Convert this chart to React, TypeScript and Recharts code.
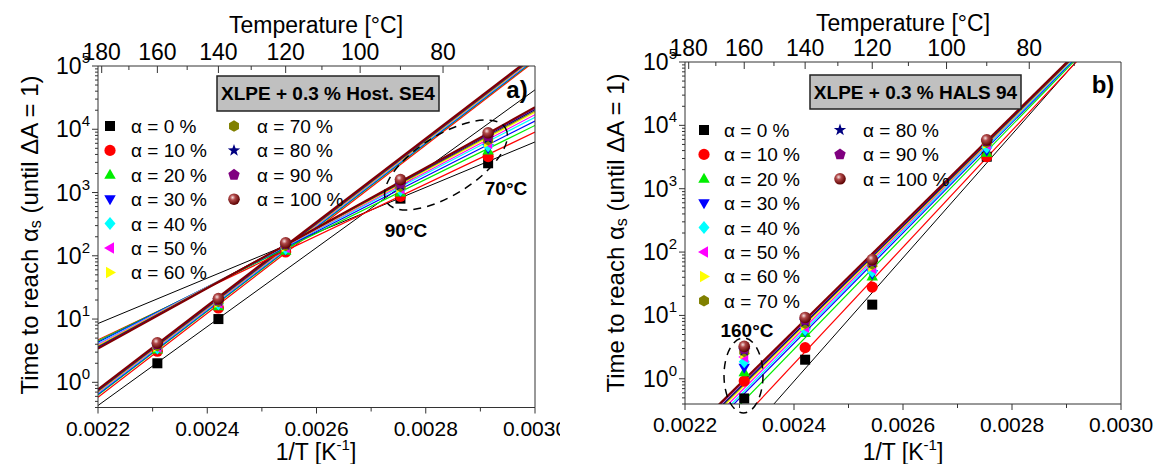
import React from 'react';
import { ComposedChart, Line, Scatter, XAxis, YAxis } from 'recharts';

// series: degree of conversion alpha
const LEVELS = [0, 10, 20, 30, 40, 50, 60, 70, 80, 90, 100];
const COLORS = ['#000000', '#ff0000', '#00ee00', '#0000ff', '#00ffff', '#ff00ff', '#ffff00', '#808000', '#000080', '#800080', '#800000'];
const SHAPES = ['square', 'circle', 'up', 'down', 'diamond', 'left', 'right', 'hexagon', 'star', 'pentagon', 'ball'];

// a) XLPE + 0.3 % Host. SE4 - time [h] at each ageing temperature
const TEMPS_A = [160, 140, 120, 90, 70];
const TIMES_A = [
  [2.0, 10, 130, 800, 2900],
  [3.1, 15, 115, 870, 3700],
  [3.3, 16, 120, 1000, 4600],
  [3.4, 17, 125, 1050, 5000],
  [3.5, 17.5, 130, 1100, 5500],
  [3.6, 18, 135, 1150, 6000],
  [3.7, 18.5, 140, 1200, 6300],
  [3.8, 19, 145, 1250, 6800],
  [3.9, 19.5, 150, 1300, 7200],
  [4.0, 20, 155, 1400, 7800],
  [4.2, 21, 160, 1600, 8800],
];
// Arrhenius fits, value at 1/T = 0.0022 and 0.0030
const FIT_A_HIGH = [
  [0.43, 42000], [0.58, 120000], [0.63, 125000], [0.65, 128000], [0.67, 131000], [0.69, 134000],
  [0.71, 137000], [0.72, 140000], [0.74, 143000], [0.76, 146000], [0.78, 150000],
];
const FIT_A_LOW = [
  [8.5, 6300], [4.7, 9000], [4.5, 11500], [4.3, 13500], [4.1, 15500], [3.95, 17000],
  [3.8, 18500], [3.7, 19500], [3.6, 20500], [3.5, 21500], [3.4, 22300],
];

// b) XLPE + 0.3 % HALS 94
const TEMPS_B = [160, 140, 120, 90];
const TIMES_B = [
  [0.49, 2.0, 14.8, 3200],
  [0.92, 3.1, 28, 3200],
  [1.27, 5.3, 41, 3700],
  [1.5, 5.6, 45, 4000],
  [1.85, 6.0, 50, 4500],
  [2.2, 6.5, 55, 5000],
  [2.5, 7.0, 60, 5200],
  [2.7, 7.5, 65, 5400],
  [2.8, 8.0, 68, 5600],
  [2.95, 8.5, 72, 5700],
  [3.25, 9.3, 76, 5900],
];
const FIT_B = [
  [0.0103, 640000], [0.025, 570000], [0.05, 590000], [0.066, 610000], [0.073, 630000], [0.082, 650000],
  [0.091, 650000], [0.097, 660000], [0.101, 670000], [0.11, 680000], [0.117, 690000],
];

const X_RANGE = [0.0022, 0.003];
const X_TICKS = [0.0022, 0.0023, 0.0024, 0.0025, 0.0026, 0.0027, 0.0028, 0.0029, 0.003];
const X_LABELS = [0.0022, 0.0024, 0.0026, 0.0028, 0.003];
const TOP_TEMPS = [180, 170, 160, 150, 140, 130, 120, 110, 100, 90, 80, 70];
const TOP_LABELS = [180, 160, 140, 120, 100, 80];
const Y_DOMAIN = [0.4, 100000];
const DECADES = [1, 10, 100, 1000, 10000, 100000];
const MINOR_MULTS = [2, 3, 4, 5, 6, 7, 8, 9];

const FONT = '"Liberation Sans", Arial, Helvetica, sans-serif';
const AXIS = '#333333';

const invT = (c: number) => 1 / (c + 273.15);
const TOP_TICKS = TOP_TEMPS.map(invT);
const Y_MINORS = [0.1, 1, 10, 100, 1000, 10000]
  .flatMap((d) => MINOR_MULTS.map((m) => +(d * m).toPrecision(3)))
  .filter((v) => v >= Y_DOMAIN[0]);
const Y_TICKS = [...DECADES, ...Y_MINORS];

function regular(n: number, r: number, rot: number): [number, number][] {
  const pts: [number, number][] = [];
  for (let k = 0; k < n; k++) {
    const a = rot + (k * 2 * Math.PI) / n;
    pts.push([r * Math.cos(a), r * Math.sin(a)]);
  }
  return pts;
}

function Marker({ kind, cx, cy, color, r = 5 }: { kind: string; cx?: number; cy?: number; color: string; r?: number }) {
  if (cx == null || cy == null) return null;
  const poly = (pts: [number, number][]) => (
    <polygon points={pts.map(([a, b]) => `${cx + a},${cy + b}`).join(' ')} fill={color} />
  );
  switch (kind) {
    case 'square':
      return <rect x={cx - r} y={cy - r} width={2 * r} height={2 * r} fill={color} />;
    case 'circle':
      return <circle cx={cx} cy={cy} r={r + 0.6} fill={color} />;
    case 'up':
      return poly([[0, -r * 1.2], [r * 1.15, r * 0.8], [-r * 1.15, r * 0.8]]);
    case 'down':
      return poly([[0, r * 1.2], [r * 1.15, -r * 0.8], [-r * 1.15, -r * 0.8]]);
    case 'left':
      return poly([[-r * 1.2, 0], [r * 0.8, -r * 1.15], [r * 0.8, r * 1.15]]);
    case 'right':
      return poly([[r * 1.2, 0], [-r * 0.8, -r * 1.15], [-r * 0.8, r * 1.15]]);
    case 'diamond':
      return poly([[0, -r * 1.3], [r * 1.1, 0], [0, r * 1.3], [-r * 1.1, 0]]);
    case 'hexagon':
      return poly(regular(6, r * 1.15, -Math.PI / 2));
    case 'pentagon':
      return poly(regular(5, r * 1.2, -Math.PI / 2));
    case 'star': {
      const outer = regular(5, r * 1.3, -Math.PI / 2);
      const inner = regular(5, r * 0.52, -Math.PI / 2 + Math.PI / 5);
      const pts: [number, number][] = [];
      outer.forEach((p, i) => { pts.push(p); pts.push(inner[i]); });
      return poly(pts);
    }
    default:
      return <circle cx={cx} cy={cy} r={r + 0.8} fill="url(#ballGrad)" />;
  }
}

const YTick = (p: any) => {
  const v = p.payload.value;
  const major = DECADES.includes(v);
  return (
    <g>
      <line x1={p.x} x2={p.x - (major ? 6 : 3)} y1={p.y} y2={p.y} stroke={AXIS} />
      {major && (
        <text x={p.x - 8} y={p.y + 8} textAnchor="end" fontSize={23} fontFamily={FONT} fill="#000">
          10<tspan dy={-11} fontSize={15}>{Math.round(Math.log10(v))}</tspan>
        </text>
      )}
    </g>
  );
};

const XTick = (p: any) => {
  const v = p.payload.value;
  const major = X_LABELS.some((l) => Math.abs(l - v) < 1e-9);
  return (
    <g>
      <line x1={p.x} x2={p.x} y1={p.y} y2={p.y + (major ? 6 : 4)} stroke={AXIS} />
      {major && (
        <text x={p.x} y={p.y + 28} textAnchor="middle" fontSize={21} fontFamily={FONT} fill="#000">
          {v.toFixed(4)}
        </text>
      )}
    </g>
  );
};

const TopTick = (p: any) => {
  const v = p.payload.value;
  const t = TOP_TEMPS.find((c) => Math.abs(invT(c) - v) < 1e-9);
  const major = t != null && TOP_LABELS.includes(t);
  return (
    <g>
      <line x1={p.x} x2={p.x} y1={p.y} y2={p.y + (major ? 7 : 4)} stroke={AXIS} />
      {major && (
        <text x={p.x} y={p.y - 6} textAnchor="middle" fontSize={23} fontFamily={FONT} fill="#000">
          {t}
        </text>
      )}
    </g>
  );
};

type PanelProps = {
  width: number;
  left: number;
  right: number;
  top: number;
  bottom: number;
  temps: number[];
  times: number[][];
  fits: number[][][];
};

function Panel({ width, left, right, top, bottom, temps, times, fits }: PanelProps) {
  return (
    <ComposedChart width={width} height={464} margin={{ top: 0, right: 0, bottom: 0, left: 0 }}>
      <XAxis
        dataKey="x" type="number" domain={X_RANGE} allowDataOverflow ticks={X_TICKS} interval={0}
        height={bottom} tickSize={0} tickMargin={0} tickLine={false} tick={XTick} axisLine={{ stroke: AXIS }}
      />
      <XAxis
        xAxisId="top" dataKey="x" orientation="top" type="number" domain={X_RANGE} allowDataOverflow ticks={TOP_TICKS}
        interval={0} height={top} tickSize={0} tickMargin={0} tickLine={false} tick={TopTick} axisLine={{ stroke: AXIS }}
      />
      <YAxis
        dataKey="y" type="number" scale="log" domain={Y_DOMAIN} allowDataOverflow ticks={Y_TICKS} interval={0}
        width={left} tickSize={0} tickMargin={0} tickLine={false} tick={YTick} axisLine={{ stroke: AXIS }}
      />
      <YAxis yAxisId="r" orientation="right" type="number" domain={[0, 1]} width={right} tick={false} tickLine={false} axisLine={{ stroke: AXIS }} />
      {LEVELS.map((lv, i) => (
        <Scatter
          key={`s${lv}`}
          data={temps.map((t, j) => ({ x: invT(t), y: times[i][j] }))}
          isAnimationActive={false}
          shape={(p: any) => <Marker kind={SHAPES[i]} cx={p.cx} cy={p.cy} color={COLORS[i]} />}
        />
      ))}
      {fits.flatMap((fit, k) =>
        LEVELS.map((lv, i) => (
          <Line
            key={`l${k}-${lv}`}
            xAxisId="top"
            data={[{ x: X_RANGE[0], y: fit[i][0] }, { x: X_RANGE[1], y: fit[i][1] }]}
            dataKey="y" type="linear" stroke={COLORS[i]} strokeWidth={i === 10 ? 2 : i === 0 ? 1 : 1.2}
            dot={false} activeDot={false} isAnimationActive={false}
          />
        ))
      )}
    </ComposedChart>
  );
}

function Legend({ items, cols }: { items: number[]; cols: { sx: number; tx: number; y0: number; rows: number[] }[] }) {
  return (
    <g>
      {cols.map((c, ci) =>
        c.rows.map((i, ri) => {
          const y = c.y0 + ri * 24.4;
          return (
            <g key={`${ci}-${i}`}>
              <Marker kind={SHAPES[i]} cx={c.sx} cy={y} color={COLORS[i]} />
              <text x={c.tx} y={y + 7} fontSize={19} fontFamily={FONT} fill="#000">
                {`α = ${items[i]} %`}
              </text>
            </g>
          );
        })
      )}
    </g>
  );
}

function AxisTitles({ cx, titleY, ylx, yly }: { cx: number; titleY: number; ylx: number; yly: number }) {
  return (
    <g fontFamily={FONT} fill="#000">
      <text x={cx} y={titleY} textAnchor="middle" fontSize={23}>Temperature [°C]</text>
      <text x={cx} y={460} textAnchor="middle" fontSize={23}>
        1/T [K<tspan dy={-10} fontSize={15}>-1</tspan><tspan dy={10}>]</tspan>
      </text>
      <text transform={`translate(${ylx},${yly}) rotate(-90)`} textAnchor="middle" dominantBaseline="central" fontSize={24}>
        Time to reach α<tspan dy={6} fontSize={16}>s</tspan><tspan dy={-6}> (until  ΔA = 1)</tspan>
      </text>
    </g>
  );
}

export default function App() {
  return (
    <div style={{ position: 'absolute', left: 0, top: 0, width: 1160, height: 464, background: '#fff', overflow: 'hidden' }}>
      <svg width={0} height={0} style={{ position: 'absolute' }}>
        <defs>
          <radialGradient id="ballGrad" cx="38%" cy="35%" r="65%">
            <stop offset="0%" stopColor="#f6e2e2" />
            <stop offset="35%" stopColor="#b04848" />
            <stop offset="100%" stopColor="#5a0000" />
          </radialGradient>
        </defs>
      </svg>
      <div style={{ position: 'absolute', left: 0, top: 0, width: 560, height: 464, overflow: 'hidden' }}>
        <Panel width={560} left={98} right={25} top={66} bottom={56.5} temps={TEMPS_A} times={TIMES_A} fits={[FIT_A_HIGH, FIT_A_LOW]} />
      </div>
      <div style={{ position: 'absolute', left: 560, top: 0, width: 600, height: 464, overflow: 'hidden' }}>
        <Panel width={600} left={125} right={39} top={62} bottom={60} temps={TEMPS_B} times={TIMES_B} fits={[FIT_B]} />
      </div>
      <svg width={1160} height={464} style={{ position: 'absolute', left: 0, top: 0, pointerEvents: 'none' }}>
        <AxisTitles cx={316} titleY={33} ylx={29} yly={235} />
        <AxisTitles cx={903} titleY={31} ylx={615} yly={233} />

        <rect x={217} y={76} width={222} height={35} fill="#c0c0c0" stroke="#222" strokeWidth={1.5} />
        <text x={328} y={100} textAnchor="middle" fontSize={19} fontWeight="bold" fontFamily={FONT}>XLPE + 0.3 % Host. SE4</text>
        <text x={517} y={98} textAnchor="middle" fontSize={24} fontWeight="bold" fontFamily={FONT}>a)</text>
        <Legend items={LEVELS} cols={[{ sx: 110, tx: 131, y0: 126, rows: [0, 1, 2, 3, 4, 5, 6] }, { sx: 234, tx: 257, y0: 126, rows: [7, 8, 9, 10] }]} />
        <ellipse cx={446} cy={165} rx={70} ry={30} transform="rotate(-32 446 165)" fill="none" stroke="#000" strokeWidth={1.5} strokeDasharray="8 6" />
        <text x={406} y={237} textAnchor="middle" fontSize={19} fontWeight="bold" fontFamily={FONT}>90°C</text>
        <text x={506} y={195} textAnchor="middle" fontSize={19} fontWeight="bold" fontFamily={FONT}>70°C</text>

        <rect x={810} y={75} width={211} height={34} fill="#c0c0c0" stroke="#222" strokeWidth={1.5} />
        <text x={915.5} y={99} textAnchor="middle" fontSize={19} fontWeight="bold" fontFamily={FONT}>XLPE + 0.3 % HALS 94</text>
        <text x={1103} y={93} textAnchor="middle" fontSize={24} fontWeight="bold" fontFamily={FONT}>b)</text>
        <Legend items={LEVELS} cols={[{ sx: 704, tx: 724, y0: 130, rows: [0, 1, 2, 3, 4, 5, 6, 7] }, { sx: 840, tx: 863, y0: 130, rows: [8, 9, 10] }]} />
        <ellipse cx={743.5} cy={375.5} rx={19.5} ry={37.5} fill="none" stroke="#000" strokeWidth={1.5} strokeDasharray="8 6" />
        <text x={747} y={337} textAnchor="middle" fontSize={19} fontWeight="bold" fontFamily={FONT}>160°C</text>
      </svg>
    </div>
  );
}
